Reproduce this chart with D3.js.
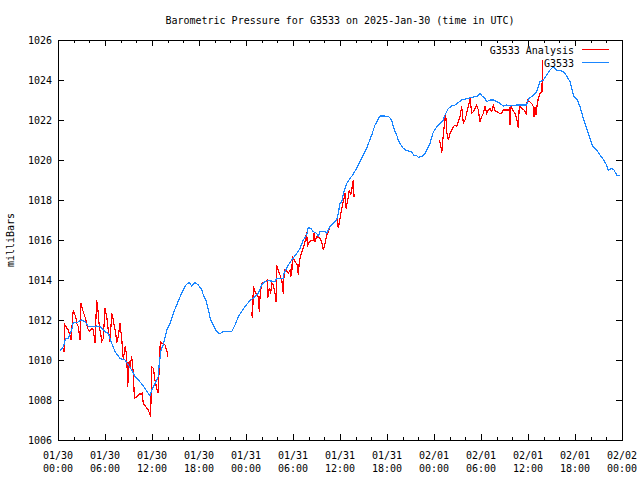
<!DOCTYPE html>
<html><head><meta charset="utf-8">
<script src="https://cdn.jsdelivr.net/npm/d3@7"></script>
<style>
html,body{margin:0;padding:0;background:#fff;}
svg text{font-family:"DejaVu Sans Mono","Liberation Mono",monospace;font-size:10px;fill:#000;}
</style></head><body>
<svg id="chart" width="640" height="480"></svg>
<script>
const title = "Barometric Pressure for G3533 on 2025-Jan-30 (time in UTC)";
const yLabel = "milliBars";
const seriesNames = ["G3533 Analysis", "G3533"];
const seriesColors = ["#ff0000", "#1a86ff"];
const startTime = Date.UTC(2025, 0, 30, 0, 0);
const endTime = Date.UTC(2025, 1, 2, 0, 0);
const yTicks = [1006, 1008, 1010, 1012, 1014, 1016, 1018, 1020, 1022, 1024, 1026];
const xTickHours = [0, 6, 12, 18, 24, 30, 36, 42, 48, 54, 60, 66, 72];
const xTickDates = ["01/30","01/30","01/30","01/30","01/31","01/31","01/31","01/31","02/01","02/01","02/01","02/01","02/02"];
const xTickTimes = ["00:00","06:00","12:00","18:00","00:00","06:00","12:00","18:00","00:00","06:00","12:00","18:00","00:00"];

// G3533 (blue) : hours since 01/30 00:00 UTC, pressure in mbar
const blueHours = [0.26,0.68,0.98,1.31,1.75,1.95,2.39,3.03,3.45,3.87,4.30,4.94,5.36,6.00,6.42,6.86,7.28,7.91,8.55,8.97,9.41,9.83,10.25,10.69,11.11,11.53,11.74,11.96,12.38,12.80,12.89,13.15,13.44,13.88,14.30,14.72,15.15,15.57,16.00,16.34,16.72,17.07,17.49,17.91,18.34,18.55,18.89,19.19,19.49,19.83,20.26,20.68,21.03,22.17,22.60,23.02,23.45,23.87,24.29,24.60,25.15,25.57,26.00,26.43,26.85,27.70,27.92,28.76,28.85,29.20,29.62,30.04,30.47,30.89,31.31,31.75,31.95,32.26,32.59,33.03,33.23,33.45,34.09,34.30,34.72,35.14,35.58,35.78,36.00,36.22,36.51,36.86,37.28,37.62,38.13,38.55,38.97,39.41,40.05,40.47,41.11,41.74,42.26,42.60,42.80,43.02,43.24,43.44,43.66,44.08,44.51,45.15,45.45,45.70,45.99,46.43,46.85,47.07,47.49,47.91,48.34,48.77,49.19,49.40,49.83,50.26,50.68,50.97,51.54,52.38,53.23,53.62,53.87,54.13,54.51,54.73,55.15,55.57,56.00,56.42,56.85,57.28,57.70,58.55,59.83,60.04,60.47,60.68,61.11,61.53,61.95,62.39,62.81,63.23,63.57,64.09,64.51,64.94,65.36,65.58,65.87,66.29,66.64,67.06,67.49,67.91,68.26,68.77,69.19,69.61,69.96,70.25,70.68,70.98,71.32,71.74];
const blueValues = [1010.47,1010.67,1011.07,1011.08,1011.5,1011.87,1011.87,1012.0,1011.92,1011.67,1011.67,1011.7,1011.67,1011.42,1011.33,1010.83,1010.42,1010.08,1010.0,1009.75,1009.5,1009.17,1009.0,1008.8,1008.58,1008.33,1008.2,1008.5,1008.83,1009.17,1009.67,1010.5,1010.75,1011.5,1011.83,1012.33,1012.75,1013.15,1013.5,1013.75,1013.88,1013.7,1013.88,1013.75,1013.53,1013.25,1013.0,1012.5,1012.0,1011.75,1011.42,1011.3,1011.42,1011.42,1011.75,1012.17,1012.42,1012.67,1012.87,1013.0,1013.17,1013.33,1013.75,1013.92,1013.97,1013.92,1014.08,1014.08,1014.33,1014.6,1014.88,1015.1,1015.33,1015.58,1016.0,1016.25,1016.63,1016.58,1016.42,1016.33,1016.2,1016.42,1016.42,1016.33,1016.67,1016.83,1017.0,1017.33,1017.83,1017.92,1018.42,1018.83,1019.08,1019.25,1019.58,1019.92,1020.25,1020.6,1021.25,1021.75,1022.2,1022.2,1022.15,1022.0,1021.67,1021.42,1021.25,1021.0,1020.83,1020.58,1020.47,1020.42,1020.2,1020.25,1020.13,1020.17,1020.33,1020.5,1020.83,1021.4,1021.65,1021.83,1022.0,1022.25,1022.58,1022.7,1022.75,1022.83,1023.0,1023.08,1023.17,1023.2,1023.33,1023.2,1023.08,1022.92,1023.0,1023.0,1022.92,1022.83,1022.7,1022.75,1022.7,1022.75,1022.75,1023.05,1023.17,1023.25,1023.42,1023.92,1024.0,1024.25,1024.5,1024.67,1024.5,1024.47,1024.42,1024.2,1023.92,1023.58,1023.17,1023.0,1022.67,1022.08,1021.58,1021.08,1020.67,1020.5,1020.25,1020.03,1019.8,1019.5,1019.58,1019.5,1019.25,1019.2];

// G3533 Analysis (red) : null marks a gap in the record
const redHours = [0.55,0.80,0.89,1.11,1.31,1.53,1.66,1.75,1.95,2.08,2.26,2.39,2.59,2.81,2.94,3.15,3.36,3.57,3.74,3.87,4.00,4.30,4.51,4.72,4.94,5.14,5.27,5.45,5.58,5.78,6.00,6.22,6.42,6.64,6.86,7.06,7.19,7.37,7.49,7.70,7.91,8.13,8.34,8.55,8.77,8.90,9.06,9.19,9.41,9.62,9.75,10.05,10.47,10.60,10.76,10.89,11.20,11.53,11.83,11.96,12.17,12.38,12.60,12.80,12.89,13.06,13.24,13.66,13.92,14.01,
  19.0,
  24.64,24.85,24.93,25.15,25.37,25.57,25.70,25.79,26.00,26.21,26.55,26.72,26.77,26.97,27.15,27.28,27.48,27.70,27.83,27.92,28.12,28.34,28.56,28.69,28.76,28.88,29.11,29.40,29.62,29.71,29.84,29.92,30.26,30.55,30.68,30.80,30.98,31.24,31.53,31.75,31.83,32.08,32.59,32.72,32.81,33.03,33.45,33.66,33.87,34.09,34.30,34.51,34.72,35.36,35.65,35.78,36.00,36.22,36.51,36.64,36.77,36.99,37.19,37.37,37.50,37.62,37.70,37.79,
  43.0,
  48.68,48.86,48.98,49.11,49.32,49.49,49.62,49.83,50.04,50.26,50.47,50.68,50.90,51.10,51.32,51.54,51.74,51.96,52.17,52.38,52.60,52.81,53.02,53.23,53.45,53.66,53.87,54.09,54.30,54.51,54.73,54.94,55.15,55.37,55.57,55.79,56.00,56.21,56.42,56.64,56.85,57.06,57.49,57.62,57.70,57.83,58.04,58.34,58.55,58.76,58.89,59.19,59.49,59.75,59.91,60.17,60.47,60.68,60.77,60.89,61.02,61.19,61.32,61.53,61.79,61.83];
const redValues = [1010.67,1010.4,1011.75,1011.6,1011.5,1011.25,1011.0,1011.5,1012.5,1012.33,1012.17,1011.83,1011.67,1011.0,1012.85,1012.5,1012.25,1012.0,1011.67,1011.5,1011.42,1011.58,1011.5,1010.85,1013.0,1012.33,1011.67,1011.33,1010.92,1011.08,1012.58,1012.17,1011.5,1010.92,1012.33,1012.0,1011.67,1011.33,1010.83,1011.17,1011.83,1011.08,1010.0,1010.67,1010.25,1008.67,1009.92,1009.67,1010.17,1009.33,1008.08,1008.17,1008.33,1008.25,1008.33,1007.83,1007.67,1007.5,1007.17,1009.67,1009.58,1009.0,1008.58,1008.33,1009.33,1010.92,1010.83,1010.75,1010.42,1010.13,
  null,
  1012.4,1012.1,1013.67,1013.42,1013.25,1013.17,1012.42,1013.17,1013.83,1013.88,1013.92,1014.0,1013.1,1013.58,1013.33,1013.87,1013.75,1013.33,1012.92,1014.75,1014.5,1014.25,1014.0,1013.67,1013.3,1014.5,1014.5,1014.33,1014.5,1014.2,1014.25,1015.2,1014.92,1014.75,1014.25,1014.92,1015.25,1015.5,1015.92,1016.42,1015.67,1015.92,1016.0,1016.42,1015.92,1016.17,1016.08,1015.92,1015.5,1015.83,1016.25,1016.42,1016.67,1016.92,1017.0,1016.58,1017.08,1017.58,1018.08,1018.33,1017.58,1018.0,1018.5,1018.25,1018.5,1018.83,1019.0,1018.17,
  null,
  1021.0,1020.75,1020.33,1020.92,1021.75,1022.33,1021.42,1021.0,1021.33,1021.5,1021.67,1021.75,1021.67,1021.92,1022.17,1022.67,1021.83,1022.0,1022.33,1022.67,1023.08,1022.33,1022.42,1022.58,1022.75,1022.5,1021.92,1022.17,1022.33,1022.67,1022.33,1022.5,1022.58,1022.42,1022.75,1022.47,1022.42,1022.37,1022.33,1022.33,1022.5,1022.5,1022.5,1022.58,1021.75,1022.67,1022.5,1022.33,1022.08,1021.58,1022.75,1022.58,1022.5,1022.33,1023.0,1022.92,1022.83,1022.67,1022.17,1022.67,1022.25,1022.83,1023.08,1023.33,1023.42,1025.0];

const svg = d3.select("#chart");
const W = 640, H = 480;
const plot = {left: 58, right: 622, top: 40, bottom: 440};

svg.append("rect").attr("width", W).attr("height", H).attr("fill", "#fff");

const x = d3.scaleUtc().domain([new Date(startTime), new Date(endTime)]).range([plot.left, plot.right]);
const y = d3.scaleLinear().domain([1006, 1026]).range([plot.bottom, plot.top]);
const toDate = h => new Date(startTime + h * 3600e3);

const majorDates = xTickHours.map(toDate);
const minorDates = d3.range(0, 73, 2).filter(h => h % 6 !== 0).map(toDate);

function styleAxis(g) {
  g.select(".domain").remove();
  g.selectAll("line").attr("stroke", "#000").attr("shape-rendering", "crispEdges");
  g.selectAll("text").remove();
}

// bottom & top axes (inward ticks)
svg.append("g").attr("transform", `translate(0,${plot.bottom})`)
  .call(d3.axisBottom(x).tickValues(majorDates).tickSize(-6).tickFormat("")).call(styleAxis);
svg.append("g").attr("transform", `translate(0,${plot.bottom})`)
  .call(d3.axisBottom(x).tickValues(minorDates).tickSize(-3).tickFormat("")).call(styleAxis);
svg.append("g").attr("transform", `translate(0,${plot.top})`)
  .call(d3.axisTop(x).tickValues(majorDates).tickSize(-6).tickFormat("")).call(styleAxis);
svg.append("g").attr("transform", `translate(0,${plot.top})`)
  .call(d3.axisTop(x).tickValues(minorDates).tickSize(-3).tickFormat("")).call(styleAxis);
// left & right axes
svg.append("g").attr("transform", `translate(${plot.left},0)`)
  .call(d3.axisLeft(y).tickValues(yTicks).tickSize(-6).tickFormat("")).call(styleAxis);
svg.append("g").attr("transform", `translate(${plot.right},0)`)
  .call(d3.axisRight(y).tickValues(yTicks).tickSize(-6).tickFormat("")).call(styleAxis);

// y tick labels
svg.append("g").selectAll("text").data(yTicks).join("text")
  .attr("x", plot.left - 6).attr("y", d => y(d) + 4)
  .attr("text-anchor", "end").text(d => d);

// x tick labels (two lines)
const xl = svg.append("g").selectAll("text").data(xTickHours).join("text")
  .attr("text-anchor", "middle");
xl.append("tspan").attr("x", (d) => x(toDate(d))).attr("y", 459).text((d, i) => xTickDates[i]);
xl.append("tspan").attr("x", (d) => x(toDate(d))).attr("y", 472).text((d, i) => xTickTimes[i]);

// border
svg.append("rect").attr("x", plot.left + 0.5).attr("y", plot.top + 0.5)
  .attr("width", plot.right - plot.left).attr("height", plot.bottom - plot.top)
  .attr("fill", "none").attr("stroke", "#000").attr("shape-rendering", "crispEdges");

// title and y label
svg.append("text").attr("x", (plot.left + plot.right) / 2).attr("y", 24)
  .attr("text-anchor", "middle").text(title);
svg.append("text").attr("transform", `translate(14,${(plot.top + plot.bottom) / 2}) rotate(-90)`)
  .attr("text-anchor", "middle").text(yLabel);

// data
const redData = redHours.map((h, i) => ({h, v: redValues[i]}));
const blueData = blueHours.map((h, i) => ({h, v: blueValues[i]}));
const line = d3.line().defined(d => d.v !== null).x(d => x(toDate(d.h))).y(d => y(d.v));

svg.append("path").datum(redData).attr("d", line)
  .attr("fill", "none").attr("stroke", seriesColors[0]).attr("stroke-width", 1.2)
  .attr("shape-rendering", "crispEdges");
svg.append("path").datum(blueData).attr("d", line)
  .attr("fill", "none").attr("stroke", seriesColors[1]).attr("stroke-width", 1.2)
  .attr("shape-rendering", "crispEdges");

// legend
const legend = svg.append("g");
seriesNames.forEach((name, i) => {
  const ly = 49.5 + i * 13;
  legend.append("text").attr("x", 574).attr("y", ly + 4).attr("text-anchor", "end").text(name);
  legend.append("line").attr("x1", 582).attr("x2", 609).attr("y1", ly).attr("y2", ly)
    .attr("stroke", seriesColors[i]).attr("stroke-width", 1).attr("shape-rendering", "crispEdges");
});
</script>
</body></html>
